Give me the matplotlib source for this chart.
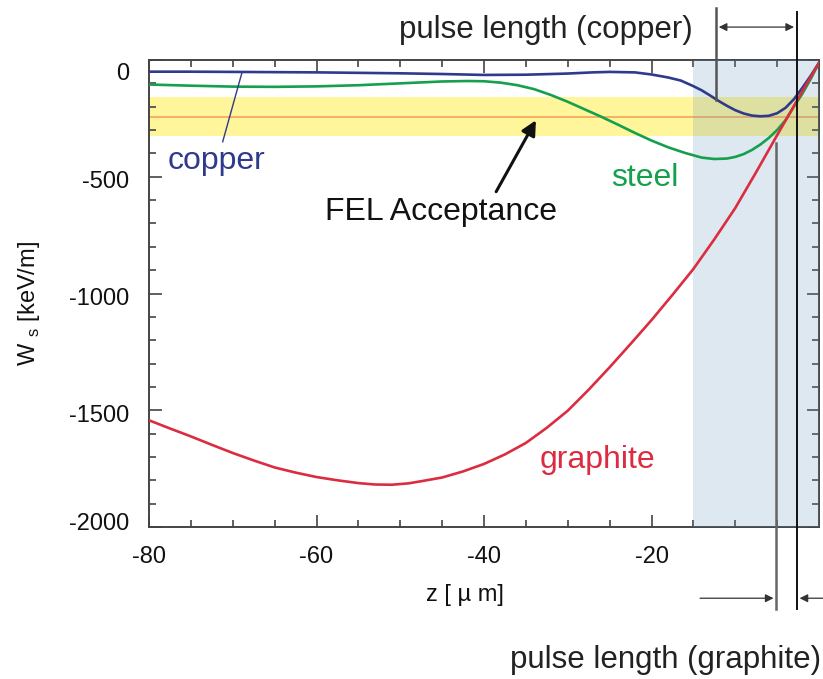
import numpy as np
import matplotlib
matplotlib.use("Agg")
import matplotlib.pyplot as plt
from matplotlib.transforms import ScaledTranslation

plt.rcParams['font.family'] = ['Liberation Sans', 'DejaVu Sans']
plt.rcParams['mathtext.fontset'] = 'custom'
plt.rcParams['mathtext.rm'] = 'Liberation Sans'

# ---- data ----
z_copper = [-80, -75, -70, -65, -60, -55, -50, -45, -40, -35, -30, -27, -25, -22, -20, -18,
            -16.5, -15, -14, -13, -12, -11, -10, -9, -8, -7, -6, -5, -4, -3, -2, -1, 0]
w_copper = [-50, -50, -51, -52, -53, -55, -57, -60, -64, -63, -58, -53, -51, -53, -62, -75,
            -88, -112, -130, -152, -175, -196, -215, -229, -238, -241, -239, -228, -205, -168,
            -120, -68, -12]

z_steel = [-80, -75, -70, -65, -60, -55, -50, -45, -42, -40, -38, -36, -34, -32, -30, -28, -26,
           -24, -22, -20, -18, -16, -14, -12.5, -11, -10, -9, -8, -7, -6, -5, -4, -3, -2, -1, 0]
w_steel = [-105, -110, -114, -115, -113, -108, -100, -92, -90, -91, -97, -108, -125, -150, -179,
           -211, -243, -277, -312, -345, -374, -398, -418, -424, -422, -415, -403, -385, -362,
           -334, -300, -258, -200, -145, -82, -12]

z_graphite = [-80, -77.5, -75, -72.5, -70, -67.5, -65, -62.5, -60, -57.5, -55, -53, -51, -49,
              -47.5, -45, -42.5, -40, -37.5, -35, -32.5, -30, -27.5, -25, -22.5, -20, -17.5,
              -15, -12.5, -10, -7.5, -5, -2.5, 0]
w_graphite = [-1543, -1578, -1612, -1648, -1683, -1715, -1745, -1767, -1786, -1800, -1812, -1818,
              -1819, -1813, -1804, -1788, -1762, -1730, -1689, -1640, -1575, -1502, -1412, -1316,
              -1216, -1114, -1006, -895, -768, -634, -480, -322, -166, -12]

fel_band = [-326, -158]
fel_center = -242
shade_range = [-15, 0]
pulse_copper_z = -12.3
pulse_copper_w = -172
pulse_graphite_z = -5.1
pulse_graphite_top = -356
ref_z = -2.65

xticks = [-80, -60, -40, -20]
yticks = [-2000, -1500, -1000, -500, 0]

c_blue = '#2f3a8c'
c_green = '#14a04c'
c_red = '#db2c40'

fig = plt.figure(figsize=(8.23, 6.79), dpi=100)
ax = fig.add_axes([149/823, (679-527)/679, (819-149)/823, (527-60)/679])

ax.axhspan(fel_band[0], fel_band[1], color='#fff59a', zorder=1, lw=0)
ax.axhline(fel_center, color='#f5a55a', lw=1.2, zorder=2)
ax.axvspan(shade_range[0], shade_range[1], color='#6a98bd', alpha=0.22, zorder=3, lw=0)

ax.plot(z_copper, w_copper, color=c_blue, lw=1.9, zorder=5)
ax.plot(z_steel, w_steel, color=c_green, lw=1.9, zorder=5)
ax.plot(z_graphite, w_graphite, color=c_red, lw=1.9, zorder=5)

ax.set_xlim(-80, 0)
ax.set_ylim(-2000, 0)
ax.set_xticks(xticks)
ax.set_xticklabels([str(v) for v in xticks])
ax.set_xticks(np.arange(-75, 0, 5), minor=True)
ax.set_yticks(yticks)
ax.set_yticklabels([str(v) for v in yticks])
ax.set_yticks(np.arange(-1900, 0, 100), minor=True)
ax.tick_params(which='both', direction='in', top=True, right=True, colors='#444',
               labelcolor='#111', labelsize=17, width=1.2)
ax.tick_params(which='major', length=9, pad=14)
ax.tick_params(which='minor', length=5)
for s in ax.spines.values():
    s.set_color('#444')
    s.set_linewidth(1.4)

for lab in ax.get_yticklabels():
    txt = lab.get_text()
    if txt == '0':
        dy = -0.12
    elif txt == '-2000':
        dy = 0.05
    else:
        dy = -0.03
    lab.set_transform(lab.get_transform() + ScaledTranslation(0, dy, fig.dpi_scale_trans))

# axis labels
fig.text(465/823, 1-595/679, 'z [ \u00b5 m]', ha='center', va='center', fontsize=17, color='#111')
fig.text(29/823, 1-303/679, r'W $_{\mathregular{s}}$ [keV/m]', ha='center', va='center',
         rotation=90, fontsize=17, color='#111')

# curve labels
ax.text(-77.8, -433, 'copper', color=c_blue, fontsize=23, ha='left', va='center')
ax.plot([-71.2, -68.9], [-350, -54], color=c_blue, lw=1.0, zorder=6)
ax.text(-24.8, -505, 'steel', color=c_green, fontsize=23, ha='left', va='center')
ax.text(-33.3, -1713, 'graphite', color=c_red, fontsize=23, ha='left', va='center')
ax.text(-59.0, -651, 'FEL Acceptance', color='#111', fontsize=23, ha='left', va='center')
ax.annotate('', xy=(-33.8, -258), xytext=(-38.55, -564),
            arrowprops=dict(arrowstyle='-|>', color='#111', lw=2.2, mutation_scale=22,
                            shrinkA=0, shrinkB=0), zorder=7)

# pulse-length markers (extend outside axes)
ax.plot([pulse_copper_z, pulse_copper_z], [pulse_copper_w, 221], color='#555', lw=1.8,
        clip_on=False, zorder=6)
ax.plot([pulse_graphite_z, pulse_graphite_z], [pulse_graphite_top, -2352], color='#666', lw=1.8,
        clip_on=False, zorder=6)
ax.plot([ref_z, ref_z], [204, -2352], color='#111', lw=1.4, clip_on=False, zorder=6)

ax.annotate('', xy=(ref_z, 141), xytext=(pulse_copper_z, 141),
            arrowprops=dict(arrowstyle='<|-|>', color='#333', lw=0.9, mutation_scale=12,
                            shrinkA=2, shrinkB=2), annotation_clip=False)
ax.annotate('', xy=(pulse_graphite_z, -2305), xytext=(-14.2, -2305),
            arrowprops=dict(arrowstyle='-|>', color='#333', lw=0.9, mutation_scale=12,
                            shrinkA=0, shrinkB=2), annotation_clip=False)
ax.annotate('', xy=(ref_z, -2305), xytext=(0.6, -2305),
            arrowprops=dict(arrowstyle='-|>', color='#333', lw=0.9, mutation_scale=12,
                            shrinkA=0, shrinkB=2), annotation_clip=False)

fig.text(693/823, 1-30/679, 'pulse length (copper)', ha='right', va='center', fontsize=22.5,
         color='#222')
fig.text(821/823, 1-660/679, 'pulse length (graphite)', ha='right', va='center', fontsize=22.5,
         color='#222')

fig.savefig('out.png', dpi=100)
